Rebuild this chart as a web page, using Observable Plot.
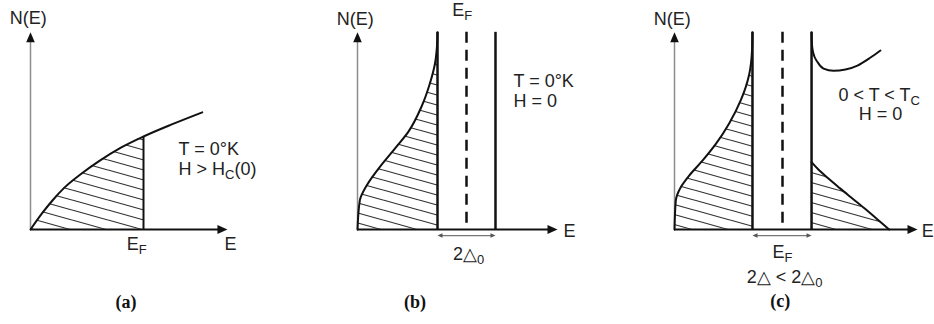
<!DOCTYPE html>
<html>
<head>
<meta charset="utf-8">
<script src="https://cdn.jsdelivr.net/npm/d3@7"></script>
<script src="https://cdn.jsdelivr.net/npm/@observablehq/plot@0.6"></script>
<style>
  body { margin: 0; background: #fff; }
  #row { display: flex; width: 934px; height: 324px; }
</style>
</head>
<body>
<!-- Hatching used to shade the occupied states -->
<svg width="0" height="0" style="position:absolute">
  <defs>
    <pattern id="hatch" patternUnits="userSpaceOnUse" width="36" height="10">
      <path d="M-36,-20L72,10M-36,-10L72,20M-36,0L72,30" stroke="#333" stroke-width="1.15" fill="none"/>
    </pattern>
  </defs>
</svg>
<div id="row"></div>
<script>
// Energy E is measured from the band bottom, in units of E_F; N(E) in arbitrary units.

// (a) Normal metal, T = 0 K, H > Hc(0)
const normalE = [0, 0.1, 0.2, 0.3, 0.45, 0.6, 0.8, 1, 1.25, 1.52];
const normalN = [0, 0.17, 0.32, 0.45, 0.6, 0.73, 0.88, 1, 1.13, 1.26];
const normalEF = 1;
const normalAxis = {E: 1.743, N: 2.12};

// (b) Superconductor, T = 0 K, H = 0: all states below the gap are filled
const bcsE = [0, 0.021, 0.083, 0.19, 0.343, 0.466, 0.587, 0.664, 0.71, 0.732, 0.734];
const bcsN = [0, 0.31, 0.47, 0.65, 0.87, 1.05, 1.32, 1.57, 1.78, 2.03, 2.12];
const bcsGap = [0.734, 1.266];
const bcsEF = 1;
const bcsAxis = {E: 1.835, N: 2.12};

// (c) Superconductor, 0 < T < Tc, H = 0: narrower gap, some excited quasiparticles
const warmLowE = [0, 0.012, 0.058, 0.136, 0.259, 0.383, 0.506, 0.614, 0.692, 0.718, 0.722];
const warmLowN = [0, 0.31, 0.455, 0.58, 0.74, 0.92, 1.14, 1.39, 1.67, 1.93, 2.12];
const warmHighE = [1.269, 1.272, 1.284, 1.324, 1.38, 1.472, 1.583, 1.694, 1.815, 1.907];
const warmHighN = [2.12, 2.0, 1.9, 1.8, 1.73, 1.706, 1.72, 1.763, 1.849, 1.925];
const warmExcE = [1.269, 1.33, 1.42, 1.53, 1.65, 1.77, 1.88, 1.988];
const warmExcN = [0.724, 0.648, 0.553, 0.445, 0.331, 0.217, 0.107, 0];
const warmGap = [0.722, 1.269];
const warmEF = 1;
const warmAxis = {E: 2.25, N: 2.12};

// Text annotations (E, N position in each panel's units)
const labelsA = [
  {E: -0.02, N: 2.27, text: "N(E)", anchor: "middle"},
  {E: 0.94, N: -0.16, text: "E_{F}", anchor: "middle"},
  {E: 1.77, N: -0.16, text: "E", anchor: "middle"},
  {E: 1.31, N: 0.86, text: "T = 0°K", anchor: "start"},
  {E: 1.31, N: 0.645, text: "H > H_{C}(0)", anchor: "start"}
];
const labelsB = [
  {E: -0.02, N: 2.26, text: "N(E)", anchor: "middle"},
  {E: 0.96, N: 2.36, text: "E_{F}", anchor: "middle"},
  {E: 1.89, N: -0.02, text: "E", anchor: "start"},
  {E: 1.431, N: 1.59, text: "T = 0°K", anchor: "start"},
  {E: 1.431, N: 1.376, text: "H = 0", anchor: "start"},
  {E: 1.02, N: -0.263, text: "2△_{0}", anchor: "middle"}
];
const labelsC = [
  {E: -0.02, N: 2.26, text: "N(E)", anchor: "middle"},
  {E: 1.0, N: -0.245, text: "E_{F}", anchor: "middle"},
  {E: 2.29, N: -0.02, text: "E", anchor: "start"},
  {E: 1.895, N: 1.44, text: "0 < T < T_{C}", anchor: "middle"},
  {E: 1.907, N: 1.237, text: "H = 0", anchor: "middle"},
  {E: 1.02, N: -0.515, text: "2△ < 2△_{0}", anchor: "middle"}
];
const panelTags = [
  {E: 0.845, N: -0.785, text: "(a)"},
  {E: 0.528, N: -0.785, text: "(b)"},
  {E: 0.98, N: -0.775, text: "(c)"}
];

const zip = (E, N) => E.map((e, i) => ({E: e, N: N[i]}));
const SANS = "Liberation Sans, Arial, Helvetica, sans-serif";
const INK = "#111";

// Filled arrowheads as custom dot symbols; the tip sits on the data point.
const headUp = {draw(c) { c.moveTo(0, 0); c.lineTo(4.3, 10); c.lineTo(-4.3, 10); c.closePath(); }};
const headRight = {draw(c) { c.moveTo(0, 0); c.lineTo(-10, 4.6); c.lineTo(-10, -4.6); c.closePath(); }};
const tipLeft = {draw(c) { c.moveTo(0, 0); c.lineTo(5, 2.3); c.lineTo(5, -2.3); c.closePath(); }};
const tipRight = {draw(c) { c.moveTo(0, 0); c.lineTo(-5, 2.3); c.lineTo(-5, -2.3); c.closePath(); }};

function axes(axis) {
  return [
    Plot.ruleX([{E: 0, N1: 0, N2: axis.N - 0.06}], {x: "E", y1: "N1", y2: "N2", stroke: "#8c8c8c", strokeWidth: 1.5}),
    Plot.ruleY([{N: 0, E1: 0, E2: axis.E - 0.04}], {y: "N", x1: "E1", x2: "E2", stroke: INK, strokeWidth: 2}),
    Plot.dot([{E: 0, N: axis.N}], {x: "E", y: "N", symbol: headUp, fill: INK, stroke: "none"}),
    Plot.dot([{E: axis.E, N: 0}], {x: "E", y: "N", symbol: headRight, fill: INK, stroke: "none"})
  ];
}

// Vertical gap edges (solid) and the Fermi level (dashed), drawn top-down
function gapLines(gap, ef, top) {
  const edges = gap.map((E) => ({E, top, bottom: 0}));
  return [
    Plot.ruleX(edges, {x: "E", y1: "top", y2: "bottom", stroke: INK, strokeWidth: 2.5}),
    Plot.ruleX([{E: ef, top, bottom: 0}], {x: "E", y1: "top", y2: "bottom", stroke: INK, strokeWidth: 2.5, strokeDasharray: "11,7"})
  ];
}

// Double-headed span marking the gap width just under the energy axis
function gapSpan(gap) {
  const N = -0.065;
  return [
    Plot.ruleY([{N, E1: gap[0] + 0.03, E2: gap[1] - 0.03}], {y: "N", x1: "E1", x2: "E2", stroke: "#777", strokeWidth: 1.2}),
    Plot.dot([{E: gap[0], N}], {x: "E", y: "N", symbol: tipLeft, fill: "#555", stroke: "none"}),
    Plot.dot([{E: gap[1], N}], {x: "E", y: "N", symbol: tipRight, fill: "#555", stroke: "none"})
  ];
}

function labels(data, tag) {
  const common = {x: "E", y: "N", text: "text", fontSize: 18, fontFamily: SANS, fill: "#222"};
  return [
    Plot.text(data.filter((d) => d.anchor === "start"), {...common, textAnchor: "start"}),
    Plot.text(data.filter((d) => d.anchor === "middle"), {...common, textAnchor: "middle"}),
    Plot.text([tag], {x: "E", y: "N", text: "text", fontSize: 18, fontWeight: "bold", fontFamily: "Liberation Serif, Times New Roman, serif", fill: "#111"})
  ];
}

// Turn "X_{sub}" markup into lowered, smaller tspans
function addSubscripts(svg) {
  const NS = "http://www.w3.org/2000/svg";
  for (const t of svg.querySelectorAll("text")) {
    const s = t.textContent;
    if (!s.includes("_{")) continue;
    t.textContent = "";
    let lowered = false;
    for (const part of s.split(/(_\{[^}]*\})/)) {
      if (!part) continue;
      const span = document.createElementNS(NS, "tspan");
      if (part.startsWith("_{")) {
        span.textContent = part.slice(2, -1);
        span.setAttribute("font-size", "13");
        span.setAttribute("dy", "4");
        lowered = true;
      } else {
        span.textContent = part;
        if (lowered) { span.setAttribute("dy", "-4"); lowered = false; }
      }
      t.appendChild(span);
    }
  }
}

function panel({width, xRange, axis, marks}) {
  const svg = Plot.plot({
    width, height: 324, margin: 0,
    style: {background: "#fff", overflow: "visible"},
    x: {domain: [0, 1], range: xRange, axis: null},
    y: {domain: [0, 1], range: [229, 136], axis: null},
    marks: [...axes(axis), ...marks]
  });
  addSubscripts(svg);
  return svg;
}

const hatch = "url(#hatch)";

// (a)
const normal = zip(normalE, normalN);
const normalAt = normal.find((d) => d.E === normalEF).N;
const figA = panel({
  width: 311, xRange: [30, 143], axis: normalAxis,
  marks: [
    Plot.areaY(normal.filter((d) => d.E <= normalEF), {x: "E", y: "N", fill: hatch, curve: "monotone-x"}),
    Plot.ruleX([{E: normalEF, N1: normalAt, N2: 0}], {x: "E", y1: "N1", y2: "N2", stroke: INK, strokeWidth: 2}),
    Plot.line(normal, {x: "E", y: "N", stroke: INK, strokeWidth: 2, curve: "monotone-x"}),
    ...labels(labelsA, panelTags[0])
  ]
});

// (b)
const bcs = zip(bcsE, bcsN);
const figB = panel({
  width: 311, xRange: [46, 155], axis: bcsAxis,
  marks: [
    Plot.areaX(bcs, {y: "N", x1: "E", x2: bcsGap[0], fill: hatch, curve: "monotone-y"}),
    Plot.line(bcs, {x: "E", y: "N", stroke: INK, strokeWidth: 2, curve: "monotone-y"}),
    ...gapLines(bcsGap, bcsEF, bcsAxis.N),
    ...gapSpan(bcsGap),
    ...labels(labelsB, panelTags[1])
  ]
});

// (c)
const warmLow = zip(warmLowE, warmLowN);
const warmHigh = zip(warmHighE, warmHighN);
const warmExc = zip(warmExcE, warmExcN);
const figC = panel({
  width: 312, xRange: [52, 160], axis: warmAxis,
  marks: [
    Plot.areaX(warmLow, {y: "N", x1: "E", x2: warmGap[0], fill: hatch, curve: "monotone-y"}),
    Plot.areaX(warmExc, {y: "N", x1: warmGap[1], x2: "E", fill: hatch, curve: "monotone-y"}),
    Plot.line(warmLow, {x: "E", y: "N", stroke: INK, strokeWidth: 2, curve: "monotone-y"}),
    Plot.line(warmHigh, {x: "E", y: "N", stroke: INK, strokeWidth: 2, curve: "monotone-x"}),
    Plot.line(warmExc, {x: "E", y: "N", stroke: INK, strokeWidth: 2, curve: "monotone-y"}),
    ...gapLines(warmGap, warmEF, warmAxis.N),
    ...gapSpan(warmGap),
    ...labels(labelsC, panelTags[2])
  ]
});

document.getElementById("row").append(figA, figB, figC);
</script>
</body>
</html>
